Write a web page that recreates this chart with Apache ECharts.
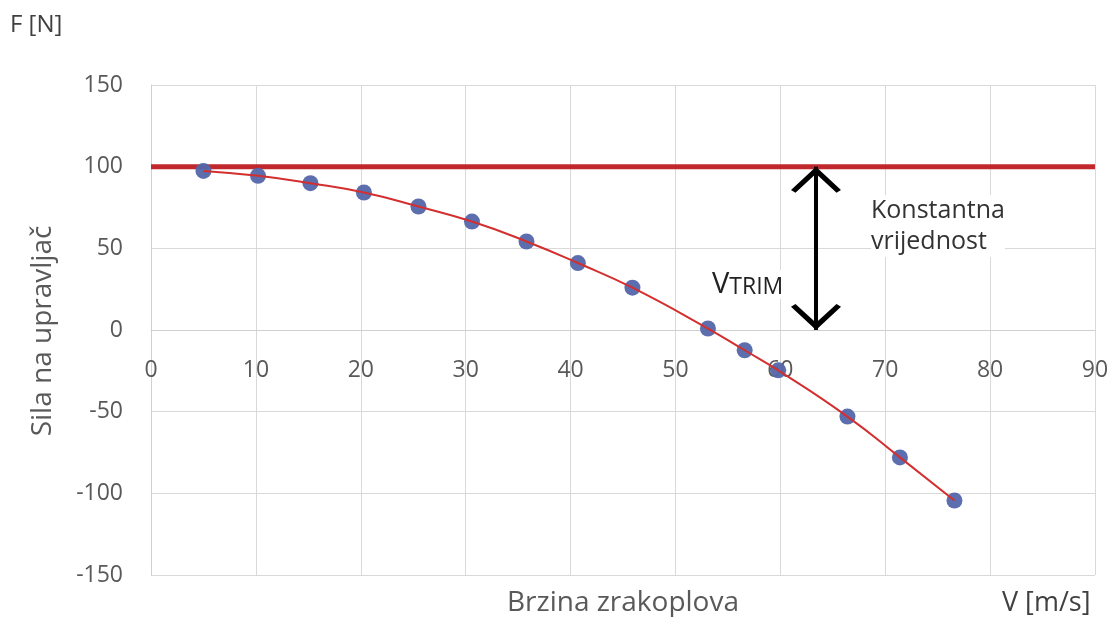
<!DOCTYPE html>
<html>
<head>
<meta charset="utf-8">
<script src="https://cdn.jsdelivr.net/npm/echarts@6/dist/echarts.min.js"></script>
<style>
  html, body { margin: 0; padding: 0; background: #fff; }
  #chart { width: 1110px; height: 617px; }
</style>
</head>
<body>
<div id="chart"></div>
<script>
// measured points: speed [m/s] and stick force [N]
const speed = [5, 10.2, 15.2, 20.3, 25.5, 30.6, 35.8, 40.7, 45.9, 53.1, 56.6, 59.8, 66.4, 71.4, 76.6]
const force = [97.4, 94.4, 89.9, 84.2, 75.6, 66.4, 54.2, 41, 25.9, 0.9, -12.4, -24.7, -53, -78, -104.4]

// constant value line
const constX = [0, 90]
const constY = [100, 100]

// V_TRIM arrow
const trimX = 63.4
const trimTop = 100
const trimBottom = 0

const xTicks = { min: 0, max: 90, step: 10 }
const yTicks = { min: -150, max: 150, step: 50 }

const font = '"Open Sans", "Noto Sans", sans-serif'
const grey = '#595959'

const gridTop = 85
const gridBottom = 42
const plotH = 617 - gridTop - gridBottom
// move x axis up to the y = 0 line
const zeroShift = plotH * (0 - yTicks.min) / (yTicks.max - yTicks.min)

const chart = echarts.init(document.getElementById('chart'))

const points = speed.map((v, i) => [v, force[i]])
// open chevron, tip at top
const chevron = 'path://M0,26 L28,0 L56,26 L51,29 L28,8 L5,29 Z'

const option = {
  backgroundColor: '#fff',
  animation: false,
  textStyle: { fontFamily: font },
  grid: { left: 151, right: 15, top: gridTop, bottom: gridBottom, outerBoundsMode: 'none', containLabel: false },
  xAxis: {
    type: 'value',
    min: xTicks.min,
    max: xTicks.max,
    interval: xTicks.step,
    offset: -zeroShift,
    axisLine: { onZero: false, lineStyle: { color: '#d0d0d0', width: 1 } },
    axisTick: { show: false },
    axisLabel: { color: grey, fontSize: 23, margin: 29, fontFamily: font },
    splitLine: { lineStyle: { color: '#d9d9d9', width: 1 } }
  },
  yAxis: {
    type: 'value',
    min: yTicks.min,
    max: yTicks.max,
    interval: yTicks.step,
    axisLine: { show: true, onZero: false, lineStyle: { color: '#d0d0d0', width: 1 } },
    axisTick: { show: false },
    axisLabel: { color: grey, fontSize: 23, margin: 28, fontFamily: font },
    splitLine: { lineStyle: { color: '#d9d9d9', width: 1 } }
  },
  series: [
    {
      name: 'konstanta',
      type: 'line',
      data: constX.map((v, i) => [v, constY[i]]),
      symbol: 'none',
      lineStyle: { color: '#c0282d', width: 5 },
      z: 2
    },
    {
      name: 'trend',
      type: 'line',
      data: points,
      smooth: true,
      symbol: 'none',
      lineStyle: { color: '#d32f2f', width: 2 },
      z: 4
    },
    {
      name: 'mjerenja',
      type: 'scatter',
      data: points,
      symbolSize: 16,
      itemStyle: { color: '#5366aa', opacity: 0.95 },
      z: 3
    },
    {
      name: 'trim',
      type: 'line',
      data: [],
      markLine: {
        silent: true,
        symbol: [chevron, chevron],
        symbolSize: [50, 26],
        symbolOffset: [[0, 13], [0, 13]],
        label: { show: false },
        lineStyle: { color: '#000', width: 4, type: 'solid' },
        data: [[{ coord: [trimX, trimTop] }, { coord: [trimX, trimBottom] }]]
      },
      z: 5
    }
  ],
  graphic: [
    { type: 'text', x: 10, y: 25, style: { text: 'F [N]', font: '24px ' + font, fill: '#404040', verticalAlign: 'middle' } },
    { type: 'text', x: 1002, y: 603, style: { text: 'V [m/s]', font: '27px ' + font, fill: '#404040', verticalAlign: 'middle' } },
    { type: 'text', x: 623, y: 603, style: { text: 'Brzina zrakoplova', font: '28px ' + font, fill: grey, align: 'center', verticalAlign: 'middle' } },
    {
      type: 'text', x: 43, y: 331, rotation: Math.PI / 2,
      style: { text: 'Sila na upravljač', font: '28px ' + font, fill: grey, align: 'center', verticalAlign: 'middle' }
    },
    {
      type: 'text', x: 871, y: 226, z: 10,
      style: {
        text: 'Konstantna\nvrijednost', font: '25px ' + font, fill: '#333', verticalAlign: 'middle',
        lineHeight: 31, backgroundColor: '#fff'
      }
    },
    {
      type: 'text', x: 712, y: 299, z: 10,
      style: {
        text: '{a|V}{b|TRIM}',
        verticalAlign: 'bottom',
        backgroundColor: '#fff',
        rich: {
          a: { fontSize: 29, fontFamily: font, fill: '#222', verticalAlign: 'bottom' },
          b: { fontSize: 23, fontFamily: font, fill: '#222', verticalAlign: 'bottom' }
        }
      }
    }
  ]
}

chart.setOption(option)
</script>
</body>
</html>
